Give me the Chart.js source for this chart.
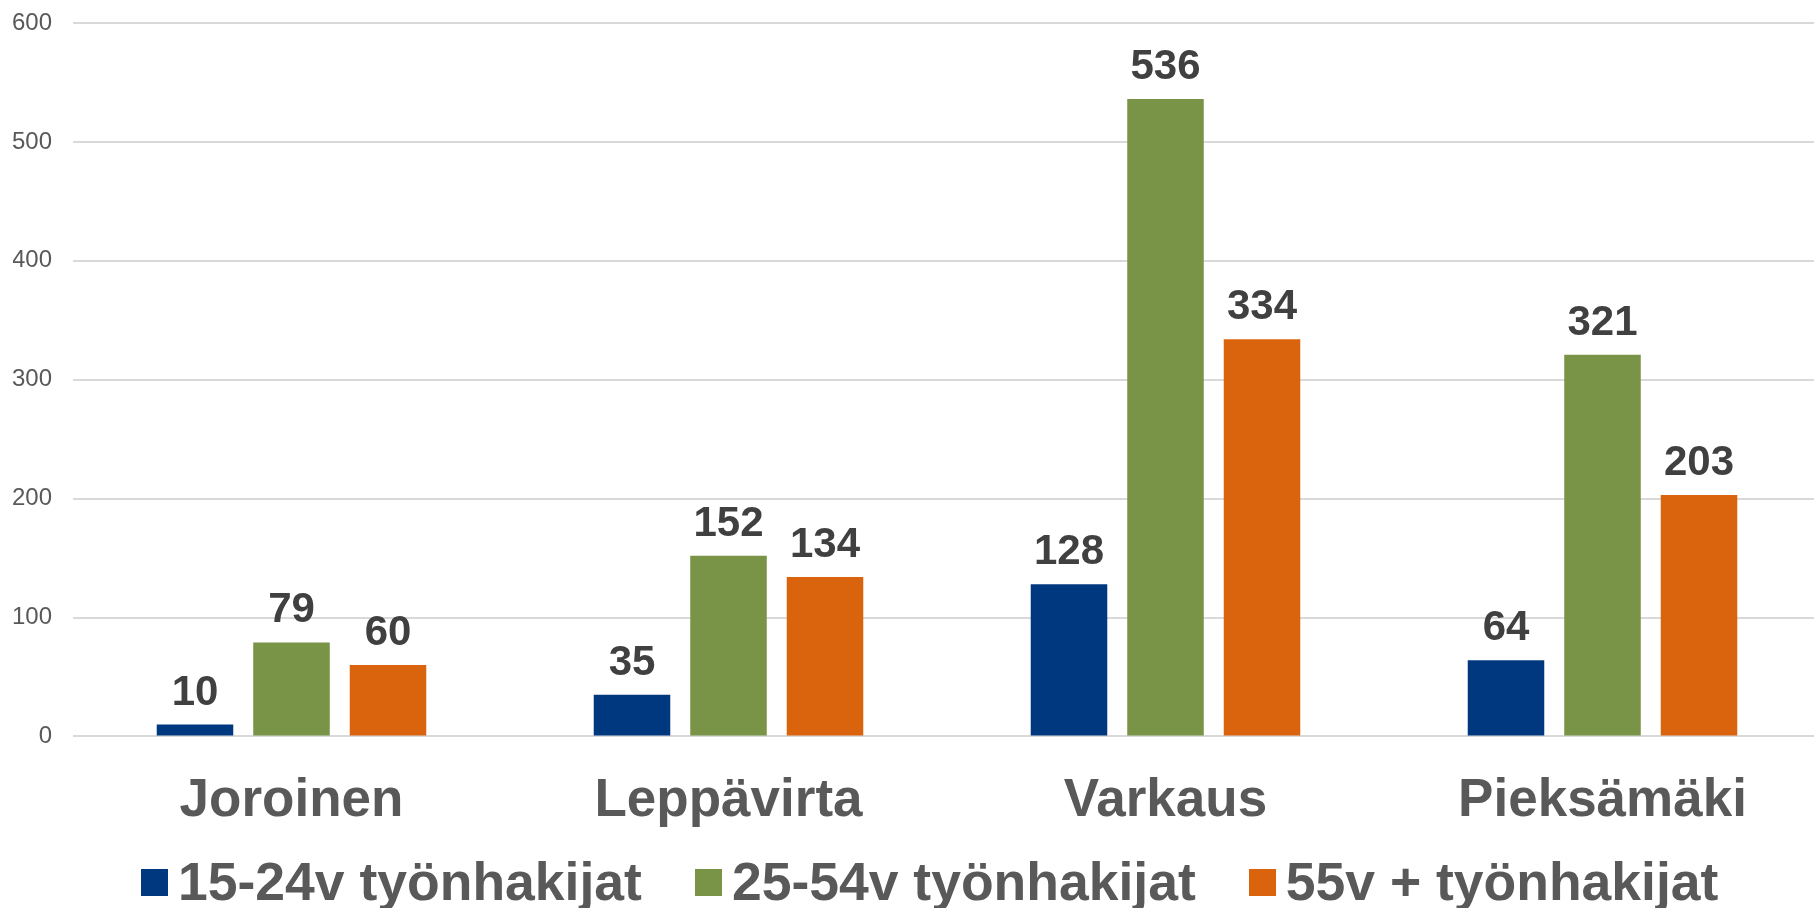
<!DOCTYPE html>
<html lang="fi">
<head>
<meta charset="utf-8">
<title>Työnhakijat ikäryhmittäin</title>
<script src="https://cdn.jsdelivr.net/npm/chart.js@4/dist/chart.umd.min.js"></script>
<style>
    html, body { margin: 0; padding: 0; background: #fff; overflow: hidden; }
    #wrap { position: relative; width: 1814px; height: 908px; overflow: hidden; }
    #chartBox { position: absolute; left: 0; top: 0; width: 1830px; height: 908px; }
    #legend {
        position: absolute; left: 141px; top: 855px;
        display: flex; font: bold 53.5px "Liberation Sans", Arial, sans-serif; color: #595959;
        line-height: 54px; white-space: nowrap;
    }
    .item { display: flex; align-items: center; margin-right: 53px; }
    .box { width: 27px; height: 27px; margin-right: 10px; }
</style>
</head>
<body>
<div id="wrap">
    <div id="chartBox"><canvas id="chart"></canvas></div>
    <div id="legend"></div>
</div>
<script>
// --- DONNÉES ---
const categories = ['Joroinen', 'Leppävirta', 'Varkaus', 'Pieksämäki'];
const seriesNames = ['15-24v työnhakijat', '25-54v työnhakijat', '55v + työnhakijat'];
const nuoret = [10, 35, 128, 64];      // 15-24v
const keskiIka = [79, 152, 536, 321];  // 25-54v
const vanhat = [60, 134, 334, 203];    // 55v +
const yTicks = [0, 100, 200, 300, 400, 500, 600];

const colors = ['#003880', '#799446', '#DA630E'];
const FONT = '"Liberation Sans", Arial, sans-serif';

// étiquettes de valeur au-dessus des barres
const valueLabels = {
    id: 'valueLabels',
    afterDatasetsDraw(chart) {
        const ctx = chart.ctx;
        ctx.save();
        ctx.font = `bold 42px ${FONT}`;
        ctx.fillStyle = '#404040';
        ctx.textAlign = 'center';
        ctx.textBaseline = 'alphabetic';
        chart.data.datasets.forEach((ds, i) => {
            chart.getDatasetMeta(i).data.forEach((bar, j) => {
                ctx.fillText(String(ds.data[j]), bar.x, bar.y - 20);
            });
        });
        ctx.restore();
    }
};

const datasets = [nuoret, keskiIka, vanhat].map((values, i) => ({
    label: seriesNames[i],
    data: values,
    backgroundColor: colors[i],
    categoryPercentage: 0.6625,
    barPercentage: 0.793
}));

new Chart(document.getElementById('chart'), {
    type: 'bar',
    data: { labels: categories, datasets: datasets },
    options: {
        responsive: true,
        maintainAspectRatio: false,
        animation: false,
        layout: { padding: { left: 13, right: 9, top: 23, bottom: 42 } },
        plugins: {
            legend: { display: false },
            tooltip: { enabled: false }
        },
        scales: {
            x: {
                grid: { display: false, drawTicks: false },
                border: { display: false },
                ticks: {
                    padding: 33,
                    color: '#595959',
                    font: { family: FONT, size: 53, weight: 'bold' }
                }
            },
            y: {
                min: 0,
                max: 600,
                afterBuildTicks: (axis) => { axis.ticks = yTicks.map(v => ({ value: v })); },
                afterFit: (axis) => {
                    // largeur fixe, pas de marge verticale réservée
                    axis.width = 60;
                    axis.paddingTop = 0;
                    axis.paddingBottom = 0;
                },
                grid: { color: '#d9d9d9', lineWidth: 2, drawTicks: false },
                border: { display: false },
                ticks: {
                    padding: 21,
                    color: '#595959',
                    font: { family: FONT, size: 24 }
                }
            }
        }
    },
    plugins: [valueLabels]
});

// légende HTML
const legendEl = document.getElementById('legend');
seriesNames.forEach((name, i) => {
    const item = document.createElement('div');
    item.className = 'item';
    item.innerHTML = `<span class="box" style="background:${colors[i]}"></span><span>${name}</span>`;
    legendEl.appendChild(item);
});
</script>
</body>
</html>
